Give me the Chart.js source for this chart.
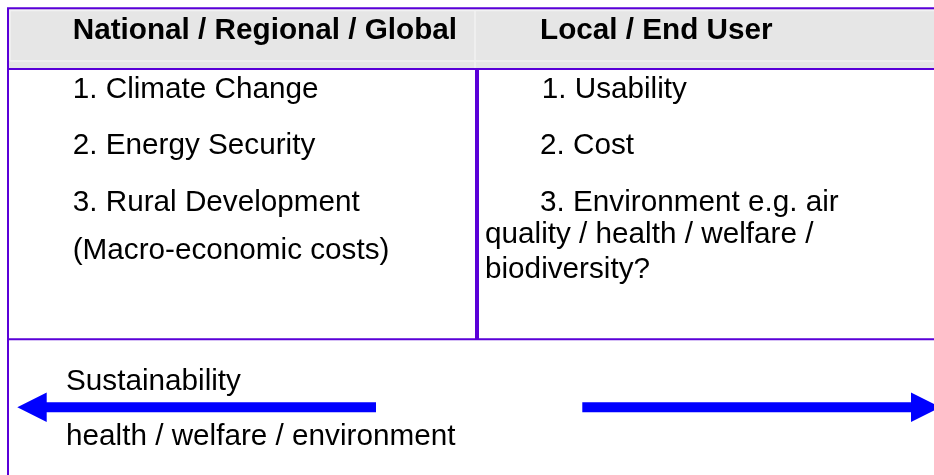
<!doctype html>
<html lang="en">
<head>
<meta charset="utf-8">
<title>National vs local priorities</title>
<script src="https://cdn.jsdelivr.net/npm/chart.js@4/dist/chart.umd.min.js"></script>
<style>
  html, body { margin: 0; padding: 0; background: #fff; }
  #wrap { width: 934px; height: 475px; }
</style>
</head>
<body>
<div id="wrap"><canvas id="chart"></canvas></div>
<script>
// texts of the diagram
const headers = ['National / Regional / Global', 'Local / End User'];
const leftItems = ['1. Climate Change', '2. Energy Security', '3. Rural Development', '(Macro-economic costs)'];
const rightItems = ['1. Usability', '2. Cost', '3. Environment e.g. air', 'quality / health / welfare /', 'biodiversity?'];
const footerLabels = ['Sustainability', 'health / welfare / environment'];

const LINE = '#5a00d8';
const ARROW = '#0000ff';
const FONT = "'Liberation Sans', Arial, Helvetica, sans-serif";

// layout in diagram units (x 0..934, y 0..475, y going down)
const L = {
  left: 8, right: 934, top: 8.3, headBottom: 69, bodyBottom: 339.3, split: 477,
  headBase: 39.3, headX: [72.7, 540],
  leftX: 72.7, leftBase: [98, 154.3, 210.7, 259.3],
  rightX: [541.7, 540, 540, 485, 485], rightBase: [98, 154.3, 210.7, 243.3, 278.3],
  footX: 66, footBase: [390, 445],
  arrowY: 407.3, shaftHalf: 5, headHalf: 14.8, headLen: 29.4,
  leftArrow: [17.3, 376], rightArrow: [582.3, 940.4]
};

const tablePlugin = {
  id: 'table',
  afterDraw(chart) {
    const ctx = chart.ctx;
    const sx = chart.scales.x, sy = chart.scales.y;
    const X = v => sx.getPixelForValue(v);
    const Y = v => sy.getPixelForValue(v);
    ctx.save();

    // header band with its light bevel
    ctx.fillStyle = '#e6e6e6';
    ctx.fillRect(X(L.left), Y(L.top), X(L.right) - X(L.left), Y(L.headBottom) - Y(L.top));
    ctx.strokeStyle = '#f2f2f2';
    ctx.lineWidth = 1.5;
    ctx.beginPath();
    ctx.moveTo(X(10), Y(10.5)); ctx.lineTo(X(L.right), Y(10.5));
    ctx.moveTo(X(10), Y(61)); ctx.lineTo(X(L.right), Y(61));
    ctx.moveTo(X(10), Y(10)); ctx.lineTo(X(10), Y(61));
    ctx.moveTo(X(475), Y(10)); ctx.lineTo(X(475), Y(L.headBottom));
    ctx.stroke();

    // frame lines
    ctx.strokeStyle = LINE;
    ctx.lineWidth = 2;
    ctx.beginPath();
    ctx.moveTo(X(L.left - 1), Y(L.top)); ctx.lineTo(X(L.right), Y(L.top));
    ctx.moveTo(X(L.left), Y(L.headBottom)); ctx.lineTo(X(L.right), Y(L.headBottom));
    ctx.moveTo(X(L.left), Y(L.bodyBottom)); ctx.lineTo(X(L.right), Y(L.bodyBottom));
    ctx.moveTo(X(L.left), Y(L.top)); ctx.lineTo(X(L.left), Y(475));
    ctx.stroke();
    ctx.lineWidth = 4;
    ctx.beginPath();
    ctx.moveTo(X(L.split), Y(L.headBottom)); ctx.lineTo(X(L.split), Y(L.bodyBottom));
    ctx.stroke();

    // header texts
    ctx.fillStyle = '#000';
    ctx.textBaseline = 'alphabetic';
    ctx.textAlign = 'left';
    ctx.font = 'bold 29.7px ' + FONT;
    headers.forEach((t, i) => ctx.fillText(t, X(L.headX[i]), Y(L.headBase)));

    // body texts
    ctx.font = '29.7px ' + FONT;
    leftItems.forEach((t, i) => ctx.fillText(t, X(L.leftX), Y(L.leftBase[i])));
    rightItems.forEach((t, i) => ctx.fillText(t, X(L.rightX[i]), Y(L.rightBase[i])));
    footerLabels.forEach((t, i) => ctx.fillText(t, X(L.footX), Y(L.footBase[i])));

    // arrows
    ctx.fillStyle = ARROW;
    const arrow = (tip, tail) => {
      const dir = Math.sign(tail - tip);
      const base = tip + dir * L.headLen;
      ctx.beginPath();
      ctx.moveTo(X(tip), Y(L.arrowY));
      ctx.lineTo(X(base), Y(L.arrowY - L.headHalf));
      ctx.lineTo(X(base), Y(L.arrowY - L.shaftHalf));
      ctx.lineTo(X(tail), Y(L.arrowY - L.shaftHalf));
      ctx.lineTo(X(tail), Y(L.arrowY + L.shaftHalf));
      ctx.lineTo(X(base), Y(L.arrowY + L.shaftHalf));
      ctx.lineTo(X(base), Y(L.arrowY + L.headHalf));
      ctx.closePath();
      ctx.fill();
    };
    arrow(L.leftArrow[0], L.leftArrow[1]);
    arrow(L.rightArrow[1], L.rightArrow[0]);

    ctx.restore();
  }
};

new Chart(document.getElementById('chart'), {
  type: 'scatter',
  data: { datasets: [{ data: [] }] },
  options: {
    responsive: true,
    maintainAspectRatio: false,
    animation: false,
    layout: { padding: 0 },
    plugins: { legend: { display: false }, tooltip: { enabled: false } },
    scales: {
      x: { type: 'linear', min: 0, max: 934, display: false },
      y: { type: 'linear', min: 0, max: 475, reverse: true, display: false }
    }
  },
  plugins: [tablePlugin]
});
</script>
</body>
</html>
